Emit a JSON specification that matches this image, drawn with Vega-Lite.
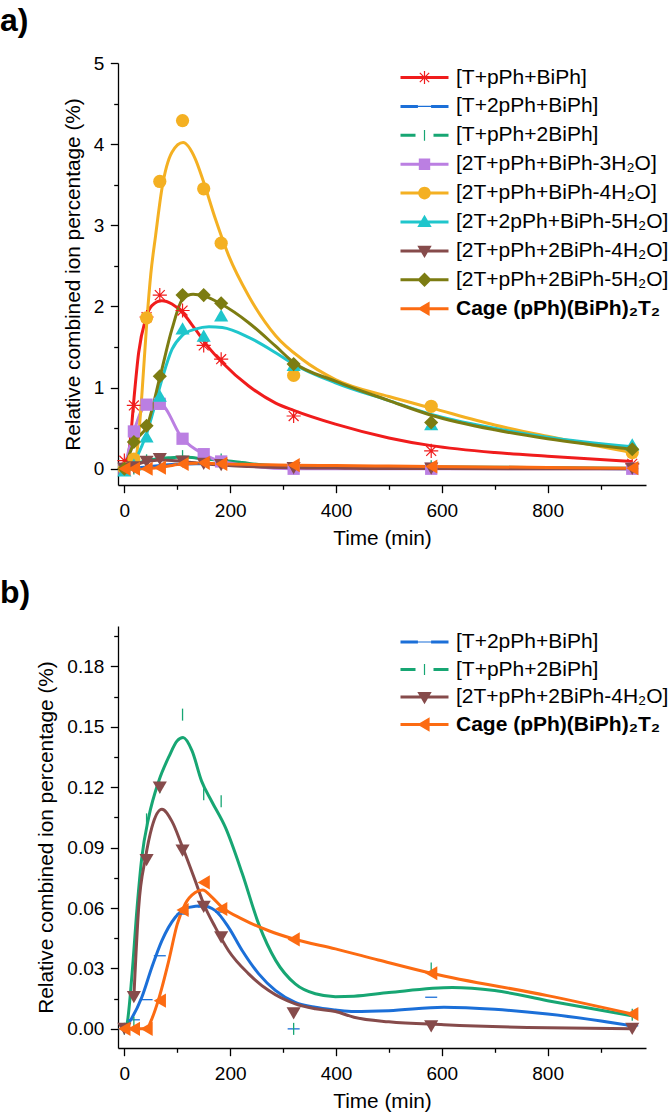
{
"$schema": "https://vega.github.io/schema/vega-lite/v6.json",
"padding": {"left": 0, "top": 5, "right": 0, "bottom": 0},
"config": {
  "font": "Liberation Sans",
  "view": {"stroke": null},
  "axis": {"grid": false, "domainColor": "#000", "domainWidth": 1.3, "tickColor": "#000", "tickWidth": 1.3, "tickSize": 7.7, "labelColor": "#000", "labelFontSize": 19, "titleColor": "#000", "titleFontSize": 20.8, "titleFontWeight": "normal", "labelFlush": false},
  "axisX": {"labelPadding": 9, "titlePadding": 8},
  "axisY": {"labelPadding": 6.5, "titlePadding": 10},
  "title": {"fontSize": 32, "fontWeight": "bold", "anchor": "start", "frame": "group", "dx": -118, "offset": 16, "color": "#000"}
},
"resolve": {"scale": {"color": "independent", "shape": "independent", "stroke": "independent"}, "legend": {"color": "independent", "shape": "independent", "stroke": "independent"}},
"datasets": {
"pts": [
{"s":"[T+pPh+BiPh]","t":0,"v":0.1},{"s":"[T+pPh+BiPh]","t":18,"v":0.78},{"s":"[T+pPh+BiPh]","t":42,"v":1.87},{"s":"[T+pPh+BiPh]","t":67,"v":2.14},{"s":"[T+pPh+BiPh]","t":110,"v":1.95},{"s":"[T+pPh+BiPh]","t":150,"v":1.52},{"s":"[T+pPh+BiPh]","t":183,"v":1.35},{"s":"[T+pPh+BiPh]","t":320,"v":0.65},{"s":"[T+pPh+BiPh]","t":580,"v":0.22},{"s":"[T+pPh+BiPh]","t":960,"v":0.06},
{"s":"[T+2pPh+BiPh]","t":0,"v":0},{"s":"[T+2pPh+BiPh]","t":18,"v":0.0045},{"s":"[T+2pPh+BiPh]","t":42,"v":0.0145},{"s":"[T+2pPh+BiPh]","t":67,"v":0.0363},{"s":"[T+2pPh+BiPh]","t":110,"v":0.057},{"s":"[T+2pPh+BiPh]","t":150,"v":0.0605},{"s":"[T+2pPh+BiPh]","t":183,"v":0.058},{"s":"[T+2pPh+BiPh]","t":320,"v":0},{"s":"[T+2pPh+BiPh]","t":580,"v":0.0157},{"s":"[T+2pPh+BiPh]","t":960,"v":0.0015},
{"s":"[T+pPh+2BiPh]","t":0,"v":0},{"s":"[T+pPh+2BiPh]","t":18,"v":0.003},{"s":"[T+pPh+2BiPh]","t":42,"v":0.104},{"s":"[T+pPh+2BiPh]","t":67,"v":0.12},{"s":"[T+pPh+2BiPh]","t":110,"v":0.156},{"s":"[T+pPh+2BiPh]","t":150,"v":0.1165},{"s":"[T+pPh+2BiPh]","t":183,"v":0.113},{"s":"[T+pPh+2BiPh]","t":320,"v":0},{"s":"[T+pPh+2BiPh]","t":580,"v":0.03},{"s":"[T+pPh+2BiPh]","t":960,"v":0.007},
{"s":"[2T+pPh+BiPh-3H₂O]","t":0,"v":0},{"s":"[2T+pPh+BiPh-3H₂O]","t":18,"v":0.46},{"s":"[2T+pPh+BiPh-3H₂O]","t":42,"v":0.79},{"s":"[2T+pPh+BiPh-3H₂O]","t":67,"v":0.8},{"s":"[2T+pPh+BiPh-3H₂O]","t":110,"v":0.37},{"s":"[2T+pPh+BiPh-3H₂O]","t":150,"v":0.18},{"s":"[2T+pPh+BiPh-3H₂O]","t":183,"v":0.09},{"s":"[2T+pPh+BiPh-3H₂O]","t":320,"v":0},{"s":"[2T+pPh+BiPh-3H₂O]","t":580,"v":0},{"s":"[2T+pPh+BiPh-3H₂O]","t":960,"v":0},
{"s":"[2T+pPh+BiPh-4H₂O]","t":0,"v":0},{"s":"[2T+pPh+BiPh-4H₂O]","t":18,"v":0.12},{"s":"[2T+pPh+BiPh-4H₂O]","t":42,"v":1.86},{"s":"[2T+pPh+BiPh-4H₂O]","t":67,"v":3.54},{"s":"[2T+pPh+BiPh-4H₂O]","t":110,"v":4.29},{"s":"[2T+pPh+BiPh-4H₂O]","t":150,"v":3.45},{"s":"[2T+pPh+BiPh-4H₂O]","t":183,"v":2.78},{"s":"[2T+pPh+BiPh-4H₂O]","t":320,"v":1.15},{"s":"[2T+pPh+BiPh-4H₂O]","t":580,"v":0.77},{"s":"[2T+pPh+BiPh-4H₂O]","t":960,"v":0.2},
{"s":"[2T+2pPh+BiPh-5H₂O]","t":0,"v":-0.02},{"s":"[2T+2pPh+BiPh-5H₂O]","t":18,"v":0.05},{"s":"[2T+2pPh+BiPh-5H₂O]","t":42,"v":0.4},{"s":"[2T+2pPh+BiPh-5H₂O]","t":67,"v":0.9},{"s":"[2T+2pPh+BiPh-5H₂O]","t":110,"v":1.73},{"s":"[2T+2pPh+BiPh-5H₂O]","t":150,"v":1.64},{"s":"[2T+2pPh+BiPh-5H₂O]","t":183,"v":1.89},{"s":"[2T+2pPh+BiPh-5H₂O]","t":320,"v":1.28},{"s":"[2T+2pPh+BiPh-5H₂O]","t":580,"v":0.55},{"s":"[2T+2pPh+BiPh-5H₂O]","t":960,"v":0.3},
{"s":"[2T+pPh+2BiPh-4H₂O]","t":0,"v":0},{"s":"[2T+pPh+2BiPh-4H₂O]","t":18,"v":0.0157},{"s":"[2T+pPh+2BiPh-4H₂O]","t":42,"v":0.0838},{"s":"[2T+pPh+2BiPh-4H₂O]","t":67,"v":0.1198},{"s":"[2T+pPh+2BiPh-4H₂O]","t":110,"v":0.0885},{"s":"[2T+pPh+2BiPh-4H₂O]","t":150,"v":0.0606},{"s":"[2T+pPh+2BiPh-4H₂O]","t":183,"v":0.0454},{"s":"[2T+pPh+2BiPh-4H₂O]","t":320,"v":0.0077},{"s":"[2T+pPh+2BiPh-4H₂O]","t":580,"v":0.0012},{"s":"[2T+pPh+2BiPh-4H₂O]","t":960,"v":0},
{"s":"[2T+pPh+2BiPh-5H₂O]","t":0,"v":0},{"s":"[2T+pPh+2BiPh-5H₂O]","t":18,"v":0.33},{"s":"[2T+pPh+2BiPh-5H₂O]","t":42,"v":0.53},{"s":"[2T+pPh+2BiPh-5H₂O]","t":67,"v":1.14},{"s":"[2T+pPh+2BiPh-5H₂O]","t":110,"v":2.14},{"s":"[2T+pPh+2BiPh-5H₂O]","t":150,"v":2.14},{"s":"[2T+pPh+2BiPh-5H₂O]","t":183,"v":2.04},{"s":"[2T+pPh+2BiPh-5H₂O]","t":320,"v":1.29},{"s":"[2T+pPh+2BiPh-5H₂O]","t":580,"v":0.57},{"s":"[2T+pPh+2BiPh-5H₂O]","t":960,"v":0.24},
{"s":"Cage (pPh)(BiPh)₂T₂","t":0,"v":0},{"s":"Cage (pPh)(BiPh)₂T₂","t":18,"v":0},{"s":"Cage (pPh)(BiPh)₂T₂","t":42,"v":0},{"s":"Cage (pPh)(BiPh)₂T₂","t":67,"v":0.014},{"s":"Cage (pPh)(BiPh)₂T₂","t":110,"v":0.059},{"s":"Cage (pPh)(BiPh)₂T₂","t":150,"v":0.0727},{"s":"Cage (pPh)(BiPh)₂T₂","t":183,"v":0.0595},{"s":"Cage (pPh)(BiPh)₂T₂","t":320,"v":0.0444},{"s":"Cage (pPh)(BiPh)₂T₂","t":580,"v":0.0276},{"s":"Cage (pPh)(BiPh)₂T₂","t":960,"v":0.0074}
],
"crv": [
{"s":"[T+pPh+BiPh]","t":0,"v":0},{"s":"[T+pPh+BiPh]","t":6,"v":0.1},{"s":"[T+pPh+BiPh]","t":12,"v":0.4},{"s":"[T+pPh+BiPh]","t":18,"v":0.85},{"s":"[T+pPh+BiPh]","t":27,"v":1.43},{"s":"[T+pPh+BiPh]","t":40,"v":1.84},{"s":"[T+pPh+BiPh]","t":52,"v":2.01},{"s":"[T+pPh+BiPh]","t":71,"v":2.07},{"s":"[T+pPh+BiPh]","t":90,"v":2.03},{"s":"[T+pPh+BiPh]","t":109,"v":1.93},{"s":"[T+pPh+BiPh]","t":134,"v":1.72},{"s":"[T+pPh+BiPh]","t":160,"v":1.49},{"s":"[T+pPh+BiPh]","t":185,"v":1.31},{"s":"[T+pPh+BiPh]","t":235,"v":1.02},{"s":"[T+pPh+BiPh]","t":286,"v":0.81},{"s":"[T+pPh+BiPh]","t":320,"v":0.72},{"s":"[T+pPh+BiPh]","t":399,"v":0.55},{"s":"[T+pPh+BiPh]","t":500,"v":0.38},{"s":"[T+pPh+BiPh]","t":580,"v":0.285},{"s":"[T+pPh+BiPh]","t":700,"v":0.2},{"s":"[T+pPh+BiPh]","t":800,"v":0.155},{"s":"[T+pPh+BiPh]","t":960,"v":0.09},
{"s":"[T+2pPh+BiPh]","t":0,"v":0},{"s":"[T+2pPh+BiPh]","t":11,"v":0.004},{"s":"[T+2pPh+BiPh]","t":33,"v":0.0157},{"s":"[T+2pPh+BiPh]","t":52,"v":0.0306},{"s":"[T+2pPh+BiPh]","t":71,"v":0.0438},{"s":"[T+2pPh+BiPh]","t":96,"v":0.0553},{"s":"[T+2pPh+BiPh]","t":122,"v":0.0603},{"s":"[T+2pPh+BiPh]","t":147,"v":0.0611},{"s":"[T+2pPh+BiPh]","t":172,"v":0.0587},{"s":"[T+2pPh+BiPh]","t":197,"v":0.0504},{"s":"[T+2pPh+BiPh]","t":223,"v":0.0388},{"s":"[T+2pPh+BiPh]","t":254,"v":0.0273},{"s":"[T+2pPh+BiPh]","t":286,"v":0.019},{"s":"[T+2pPh+BiPh]","t":323,"v":0.0132},{"s":"[T+2pPh+BiPh]","t":361,"v":0.0107},{"s":"[T+2pPh+BiPh]","t":399,"v":0.0094},{"s":"[T+2pPh+BiPh]","t":434,"v":0.0086},{"s":"[T+2pPh+BiPh]","t":500,"v":0.009},{"s":"[T+2pPh+BiPh]","t":604,"v":0.0107},{"s":"[T+2pPh+BiPh]","t":700,"v":0.0097},{"s":"[T+2pPh+BiPh]","t":800,"v":0.0074},{"s":"[T+2pPh+BiPh]","t":958,"v":0.0016},
{"s":"[T+pPh+2BiPh]","t":0,"v":0},{"s":"[T+pPh+2BiPh]","t":5,"v":0.0025},{"s":"[T+pPh+2BiPh]","t":14.5,"v":0.027},{"s":"[T+pPh+2BiPh]","t":24,"v":0.06},{"s":"[T+pPh+2BiPh]","t":33,"v":0.085},{"s":"[T+pPh+2BiPh]","t":46,"v":0.105},{"s":"[T+pPh+2BiPh]","t":65,"v":0.123},{"s":"[T+pPh+2BiPh]","t":84,"v":0.135},{"s":"[T+pPh+2BiPh]","t":100,"v":0.143},{"s":"[T+pPh+2BiPh]","t":111,"v":0.1446},{"s":"[T+pPh+2BiPh]","t":128,"v":0.138},{"s":"[T+pPh+2BiPh]","t":146,"v":0.123},{"s":"[T+pPh+2BiPh]","t":165,"v":0.113},{"s":"[T+pPh+2BiPh]","t":191,"v":0.1},{"s":"[T+pPh+2BiPh]","t":223,"v":0.077},{"s":"[T+pPh+2BiPh]","t":254,"v":0.052},{"s":"[T+pPh+2BiPh]","t":286,"v":0.034},{"s":"[T+pPh+2BiPh]","t":323,"v":0.0223},{"s":"[T+pPh+2BiPh]","t":361,"v":0.0174},{"s":"[T+pPh+2BiPh]","t":399,"v":0.016},{"s":"[T+pPh+2BiPh]","t":434,"v":0.0162},{"s":"[T+pPh+2BiPh]","t":500,"v":0.018},{"s":"[T+pPh+2BiPh]","t":620,"v":0.0205},{"s":"[T+pPh+2BiPh]","t":700,"v":0.019},{"s":"[T+pPh+2BiPh]","t":800,"v":0.014},{"s":"[T+pPh+2BiPh]","t":960,"v":0.0065},
{"s":"[2T+pPh+BiPh-3H₂O]","t":0,"v":0},{"s":"[2T+pPh+BiPh-3H₂O]","t":18,"v":0.46},{"s":"[2T+pPh+BiPh-3H₂O]","t":42,"v":0.79},{"s":"[2T+pPh+BiPh-3H₂O]","t":67,"v":0.8},{"s":"[2T+pPh+BiPh-3H₂O]","t":110,"v":0.37},{"s":"[2T+pPh+BiPh-3H₂O]","t":150,"v":0.18},{"s":"[2T+pPh+BiPh-3H₂O]","t":183,"v":0.09},{"s":"[2T+pPh+BiPh-3H₂O]","t":320,"v":0},{"s":"[2T+pPh+BiPh-3H₂O]","t":580,"v":0},{"s":"[2T+pPh+BiPh-3H₂O]","t":960,"v":0},
{"s":"[2T+pPh+BiPh-4H₂O]","t":0,"v":0},{"s":"[2T+pPh+BiPh-4H₂O]","t":12,"v":0},{"s":"[2T+pPh+BiPh-4H₂O]","t":18,"v":0.02},{"s":"[2T+pPh+BiPh-4H₂O]","t":21,"v":0.07},{"s":"[2T+pPh+BiPh-4H₂O]","t":27,"v":0.4},{"s":"[2T+pPh+BiPh-4H₂O]","t":33,"v":0.9},{"s":"[2T+pPh+BiPh-4H₂O]","t":43,"v":1.86},{"s":"[2T+pPh+BiPh-4H₂O]","t":50,"v":2.4},{"s":"[2T+pPh+BiPh-4H₂O]","t":59,"v":2.87},{"s":"[2T+pPh+BiPh-4H₂O]","t":71,"v":3.45},{"s":"[2T+pPh+BiPh-4H₂O]","t":90,"v":3.9},{"s":"[2T+pPh+BiPh-4H₂O]","t":111,"v":4.02},{"s":"[2T+pPh+BiPh-4H₂O]","t":134,"v":3.82},{"s":"[2T+pPh+BiPh-4H₂O]","t":150,"v":3.53},{"s":"[2T+pPh+BiPh-4H₂O]","t":172,"v":3.08},{"s":"[2T+pPh+BiPh-4H₂O]","t":197,"v":2.63},{"s":"[2T+pPh+BiPh-4H₂O]","t":235,"v":2.13},{"s":"[2T+pPh+BiPh-4H₂O]","t":286,"v":1.64},{"s":"[2T+pPh+BiPh-4H₂O]","t":336,"v":1.35},{"s":"[2T+pPh+BiPh-4H₂O]","t":399,"v":1.1},{"s":"[2T+pPh+BiPh-4H₂O]","t":500,"v":0.89},{"s":"[2T+pPh+BiPh-4H₂O]","t":580,"v":0.75},{"s":"[2T+pPh+BiPh-4H₂O]","t":700,"v":0.54},{"s":"[2T+pPh+BiPh-4H₂O]","t":800,"v":0.4},{"s":"[2T+pPh+BiPh-4H₂O]","t":960,"v":0.2},
{"s":"[2T+2pPh+BiPh-5H₂O]","t":0,"v":-0.02},{"s":"[2T+2pPh+BiPh-5H₂O]","t":7,"v":0},{"s":"[2T+2pPh+BiPh-5H₂O]","t":14.5,"v":0.07},{"s":"[2T+2pPh+BiPh-5H₂O]","t":24,"v":0.15},{"s":"[2T+2pPh+BiPh-5H₂O]","t":33,"v":0.28},{"s":"[2T+2pPh+BiPh-5H₂O]","t":42,"v":0.43},{"s":"[2T+2pPh+BiPh-5H₂O]","t":52,"v":0.65},{"s":"[2T+2pPh+BiPh-5H₂O]","t":71,"v":1.1},{"s":"[2T+2pPh+BiPh-5H₂O]","t":90,"v":1.47},{"s":"[2T+2pPh+BiPh-5H₂O]","t":109,"v":1.64},{"s":"[2T+2pPh+BiPh-5H₂O]","t":134,"v":1.72},{"s":"[2T+2pPh+BiPh-5H₂O]","t":160,"v":1.75},{"s":"[2T+2pPh+BiPh-5H₂O]","t":185,"v":1.74},{"s":"[2T+2pPh+BiPh-5H₂O]","t":235,"v":1.62},{"s":"[2T+2pPh+BiPh-5H₂O]","t":286,"v":1.43},{"s":"[2T+2pPh+BiPh-5H₂O]","t":320,"v":1.29},{"s":"[2T+2pPh+BiPh-5H₂O]","t":399,"v":1.06},{"s":"[2T+2pPh+BiPh-5H₂O]","t":500,"v":0.84},{"s":"[2T+2pPh+BiPh-5H₂O]","t":580,"v":0.67},{"s":"[2T+2pPh+BiPh-5H₂O]","t":700,"v":0.5},{"s":"[2T+2pPh+BiPh-5H₂O]","t":800,"v":0.39},{"s":"[2T+2pPh+BiPh-5H₂O]","t":960,"v":0.27},
{"s":"[2T+pPh+2BiPh-4H₂O]","t":18,"v":0.0157},{"s":"[2T+pPh+2BiPh-4H₂O]","t":27,"v":0.06},{"s":"[2T+pPh+2BiPh-4H₂O]","t":40,"v":0.085},{"s":"[2T+pPh+2BiPh-4H₂O]","t":52,"v":0.1},{"s":"[2T+pPh+2BiPh-4H₂O]","t":71,"v":0.109},{"s":"[2T+pPh+2BiPh-4H₂O]","t":90,"v":0.103},{"s":"[2T+pPh+2BiPh-4H₂O]","t":109,"v":0.0909},{"s":"[2T+pPh+2BiPh-4H₂O]","t":134,"v":0.0735},{"s":"[2T+pPh+2BiPh-4H₂O]","t":150,"v":0.062},{"s":"[2T+pPh+2BiPh-4H₂O]","t":172,"v":0.0504},{"s":"[2T+pPh+2BiPh-4H₂O]","t":197,"v":0.0388},{"s":"[2T+pPh+2BiPh-4H₂O]","t":235,"v":0.0273},{"s":"[2T+pPh+2BiPh-4H₂O]","t":273,"v":0.019},{"s":"[2T+pPh+2BiPh-4H₂O]","t":323,"v":0.0124},{"s":"[2T+pPh+2BiPh-4H₂O]","t":361,"v":0.01},{"s":"[2T+pPh+2BiPh-4H₂O]","t":399,"v":0.0086},{"s":"[2T+pPh+2BiPh-4H₂O]","t":434,"v":0.0058},{"s":"[2T+pPh+2BiPh-4H₂O]","t":500,"v":0.0035},{"s":"[2T+pPh+2BiPh-4H₂O]","t":604,"v":0.0021},{"s":"[2T+pPh+2BiPh-4H₂O]","t":800,"v":0.0005},{"s":"[2T+pPh+2BiPh-4H₂O]","t":960,"v":0},
{"s":"[2T+pPh+2BiPh-5H₂O]","t":0,"v":0},{"s":"[2T+pPh+2BiPh-5H₂O]","t":19,"v":0.33},{"s":"[2T+pPh+2BiPh-5H₂O]","t":43,"v":0.53},{"s":"[2T+pPh+2BiPh-5H₂O]","t":68,"v":1.15},{"s":"[2T+pPh+2BiPh-5H₂O]","t":90,"v":1.72},{"s":"[2T+pPh+2BiPh-5H₂O]","t":111,"v":2.1},{"s":"[2T+pPh+2BiPh-5H₂O]","t":130,"v":2.15},{"s":"[2T+pPh+2BiPh-5H₂O]","t":150,"v":2.13},{"s":"[2T+pPh+2BiPh-5H₂O]","t":183,"v":2.03},{"s":"[2T+pPh+2BiPh-5H₂O]","t":235,"v":1.8},{"s":"[2T+pPh+2BiPh-5H₂O]","t":286,"v":1.51},{"s":"[2T+pPh+2BiPh-5H₂O]","t":320,"v":1.31},{"s":"[2T+pPh+2BiPh-5H₂O]","t":399,"v":1.08},{"s":"[2T+pPh+2BiPh-5H₂O]","t":500,"v":0.84},{"s":"[2T+pPh+2BiPh-5H₂O]","t":580,"v":0.66},{"s":"[2T+pPh+2BiPh-5H₂O]","t":700,"v":0.48},{"s":"[2T+pPh+2BiPh-5H₂O]","t":800,"v":0.37},{"s":"[2T+pPh+2BiPh-5H₂O]","t":960,"v":0.24},
{"s":"Cage (pPh)(BiPh)₂T₂","t":0,"v":0},{"s":"Cage (pPh)(BiPh)₂T₂","t":18,"v":0},{"s":"Cage (pPh)(BiPh)₂T₂","t":42,"v":0},{"s":"Cage (pPh)(BiPh)₂T₂","t":52,"v":0.005},{"s":"Cage (pPh)(BiPh)₂T₂","t":65,"v":0.0149},{"s":"Cage (pPh)(BiPh)₂T₂","t":84,"v":0.0339},{"s":"Cage (pPh)(BiPh)₂T₂","t":100,"v":0.052},{"s":"Cage (pPh)(BiPh)₂T₂","t":115,"v":0.062},{"s":"Cage (pPh)(BiPh)₂T₂","t":134,"v":0.0677},{"s":"Cage (pPh)(BiPh)₂T₂","t":148,"v":0.069},{"s":"Cage (pPh)(BiPh)₂T₂","t":166,"v":0.0653},{"s":"Cage (pPh)(BiPh)₂T₂","t":185,"v":0.0603},{"s":"Cage (pPh)(BiPh)₂T₂","t":223,"v":0.0545},{"s":"Cage (pPh)(BiPh)₂T₂","t":273,"v":0.0487},{"s":"Cage (pPh)(BiPh)₂T₂","t":320,"v":0.0446},{"s":"Cage (pPh)(BiPh)₂T₂","t":399,"v":0.0397},{"s":"Cage (pPh)(BiPh)₂T₂","t":480,"v":0.0342},{"s":"Cage (pPh)(BiPh)₂T₂","t":580,"v":0.0276},{"s":"Cage (pPh)(BiPh)₂T₂","t":800,"v":0.0165},{"s":"Cage (pPh)(BiPh)₂T₂","t":960,"v":0.0074}
]
},
"spacing": 28,
"vconcat": [
{
  "width": 528, "height": 422,
  "title": {"text": "a)"},
  "encoding": {
    "x": {"field": "t", "type": "quantitative", "scale": {"domain": [-12, 986], "nice": false, "zero": false}, "axis": null},
    "y": {"field": "v", "type": "quantitative", "scale": {"domain": [-0.2, 5], "nice": false, "zero": false}, "axis": null}
  },
  "layer": [
    {"data": {"name": "crv"}, "mark": {"type": "line", "interpolate": "monotone", "strokeWidth": 3},
     "encoding": {
       "x": {"field": "t", "type": "quantitative", "scale": {"domain": [-12, 986], "nice": false, "zero": false}, "axis": {"values": [0,200,400,600,800], "title": "Time (min)", "orient": "bottom"}},
       "y": {"field": "v", "type": "quantitative", "scale": {"domain": [-0.2, 5], "nice": false, "zero": false}, "axis": {"values": [0,1,2,3,4,5], "format": "d", "title": "Relative combined ion percentage (%)", "orient": "left"}},
       "stroke": {"field": "s", "type": "nominal", "legend": null,
         "scale": {"domain": ["Cage (pPh)(BiPh)₂T₂","[2T+pPh+2BiPh-5H₂O]","[2T+pPh+2BiPh-4H₂O]","[2T+2pPh+BiPh-5H₂O]","[2T+pPh+BiPh-4H₂O]","[2T+pPh+BiPh-3H₂O]","[T+pPh+2BiPh]","[T+2pPh+BiPh]","[T+pPh+BiPh]"],
                   "range": ["#fc6b12","#7c7c12","#864b4b","#1fc6cc","#f4b022","#bb7fe2","#17a673","#1b6fd8","#f01c1c"]}}
     }},
    {"data": {"name": "pts"}, "transform": [{"filter": {"field": "s", "equal": "[T+pPh+BiPh]"}}],
     "mark": {"type": "point", "shape": "M-1,0H1M0,-1V1M-0.7,-0.7L0.7,0.7M-0.7,0.7L0.7,-0.7", "filled": false, "color": "#f01c1c", "strokeWidth": 1.2, "size": 200, "opacity": 1}},
    {"data": {"name": "pts"}, "transform": [{"filter": {"field": "s", "equal": "[T+2pPh+BiPh]"}}],
     "mark": {"type": "point", "shape": "M-1,0H1", "filled": false, "color": "#1b6fd8", "strokeWidth": 1.3, "size": 144, "opacity": 1}},
    {"data": {"name": "pts"}, "transform": [{"filter": {"field": "s", "equal": "[T+pPh+2BiPh]"}}],
     "mark": {"type": "point", "shape": "M0,-1V1", "filled": false, "color": "#17a673", "strokeWidth": 1.3, "size": 144, "opacity": 1}},
    {"data": {"name": "pts"}, "transform": [{"filter": {"field": "s", "equal": "[2T+pPh+BiPh-3H₂O]"}}],
     "mark": {"type": "point", "shape": "square", "filled": true, "color": "#bb7fe2", "size": 150, "opacity": 1}},
    {"data": {"name": "pts"}, "transform": [{"filter": {"field": "s", "equal": "[2T+pPh+BiPh-4H₂O]"}}],
     "mark": {"type": "point", "shape": "circle", "filled": true, "color": "#f4b022", "size": 175, "opacity": 1}},
    {"data": {"name": "pts"}, "transform": [{"filter": {"field": "s", "equal": "[2T+2pPh+BiPh-5H₂O]"}}],
     "mark": {"type": "point", "shape": "triangle-up", "filled": true, "color": "#1fc6cc", "size": 200, "opacity": 1}},
    {"data": {"name": "pts"}, "transform": [{"filter": {"field": "s", "equal": "[2T+pPh+2BiPh-4H₂O]"}}],
     "mark": {"type": "point", "shape": "triangle-down", "filled": true, "color": "#864b4b", "size": 200, "opacity": 1}},
    {"data": {"name": "pts"}, "transform": [{"filter": {"field": "s", "equal": "[2T+pPh+2BiPh-5H₂O]"}}],
     "mark": {"type": "point", "shape": "diamond", "filled": true, "color": "#7c7c12", "size": 200, "opacity": 1}},
    {"data": {"name": "pts"}, "transform": [{"filter": {"field": "s", "equal": "Cage (pPh)(BiPh)₂T₂"}}],
     "mark": {"type": "point", "shape": "triangle-left", "filled": true, "color": "#fc6b12", "size": 200, "opacity": 1}},
    {"data": {"name": "pts"}, "mark": {"type": "point", "filled": true, "opacity": 0},
     "encoding": {
       "x": {"field": "t", "type": "quantitative", "scale": {"domain": [-12, 986], "nice": false, "zero": false}, "axis": {"values": [100,300,500,700,900], "labels": false, "domain": false, "tickSize": 4.3, "title": null, "orient": "bottom"}},
       "y": {"field": "v", "type": "quantitative", "scale": {"domain": [-0.2, 5], "nice": false, "zero": false}, "axis": {"values": [0.5,1.5,2.5,3.5,4.5], "labels": false, "domain": false, "tickSize": 4.3, "title": null, "orient": "left"}},
       "color": {"field": "s", "type": "nominal",
         "scale": {"domain": ["[T+pPh+BiPh]","[T+2pPh+BiPh]","[T+pPh+2BiPh]","[2T+pPh+BiPh-3H₂O]","[2T+pPh+BiPh-4H₂O]","[2T+2pPh+BiPh-5H₂O]","[2T+pPh+2BiPh-4H₂O]","[2T+pPh+2BiPh-5H₂O]","Cage (pPh)(BiPh)₂T₂"],
                   "range": ["#f01c1c","#1b6fd8","#17a673","#bb7fe2","#f4b022","#1fc6cc","#864b4b","#7c7c12","#fc6b12"]},
         "legend": {"title": null, "orient": "none", "legendX": 296, "legendY": 4, "symbolSize": 144, "symbolStrokeWidth": 0, "labelFontSize": 21, "labelOffset": 21, "rowPadding": 6.9, "padding": 0, "labelLimit": 400, "labelColor": "#000", "symbolOpacity": 1, "labelFontWeight": {"expr": "datum.label == 'Cage (pPh)(BiPh)₂T₂' ? 'bold' : 'normal'"}}},
       "shape": {"field": "s", "type": "nominal",
         "scale": {"domain": ["[T+pPh+BiPh]","[T+2pPh+BiPh]","[T+pPh+2BiPh]","[2T+pPh+BiPh-3H₂O]","[2T+pPh+BiPh-4H₂O]","[2T+2pPh+BiPh-5H₂O]","[2T+pPh+2BiPh-4H₂O]","[2T+pPh+2BiPh-5H₂O]","Cage (pPh)(BiPh)₂T₂"],
                   "range": [
                     "M-4,-0.25H4V0.25H-4ZM-0.1,-1.1H0.1V1.1H-0.1ZM-0.85,-0.71L-0.71,-0.85L0.85,0.71L0.71,0.85ZM-0.71,0.85L-0.85,0.71L0.71,-0.85L0.85,-0.71Z",
                     "M-4,-0.25H-1.1V0.25H-4ZM1.1,-0.25H4V0.25H1.1ZM-1.1,-0.1H1.1V0.1H-1.1Z",
                     "M-4,-0.25H-1.5V0.25H-4ZM1.5,-0.25H4V0.25H1.5ZM-0.1,-0.9H0.1V0.9H-0.1Z",
                     "M-4,-0.25H4V0.25H-4ZM-0.95,-0.95H0.95V0.95H-0.95Z",
                     "M-4,-0.25H4V0.25H-4ZM1.05,0A1.05,1.05 0 1,1 -1.05,0A1.05,1.05 0 1,1 1.05,0Z",
                     "M-4,-0.25H4V0.25H-4ZM0,-1.2L1.2,0.85H-1.2Z",
                     "M-4,-0.25H4V0.25H-4ZM0,1.2L-1.2,-0.85H1.2Z",
                     "M-4,-0.25H4V0.25H-4ZM0,-1.2L1.2,0L0,1.2L-1.2,0Z",
                     "M-4,-0.25H4V0.25H-4ZM-1.2,0L0.85,-1.2V1.2Z"]},
         "legend": {"title": null, "orient": "none", "legendX": 296, "legendY": 4, "symbolSize": 144, "symbolStrokeWidth": 0, "labelFontSize": 21, "labelOffset": 21, "rowPadding": 6.9, "padding": 0, "labelLimit": 400, "labelColor": "#000", "symbolOpacity": 1, "labelFontWeight": {"expr": "datum.label == 'Cage (pPh)(BiPh)₂T₂' ? 'bold' : 'normal'"}}}
     }}
  ],
  "resolve": {"axis": {"x": "independent", "y": "independent"}}
},
{
  "width": 528, "height": 422,
  "title": {"text": "b)"},
  "encoding": {
    "x": {"field": "t", "type": "quantitative", "scale": {"domain": [-12, 986], "nice": false, "zero": false}, "axis": null},
    "y": {"field": "v", "type": "quantitative", "scale": {"domain": [-0.0095, 0.2], "nice": false, "zero": false}, "axis": null}
  },
  "layer": [
    {"data": {"name": "crv"}, "transform": [{"filter": {"field": "s", "oneOf": ["[T+2pPh+BiPh]","[T+pPh+2BiPh]","[2T+pPh+2BiPh-4H₂O]","Cage (pPh)(BiPh)₂T₂"]}}],
     "mark": {"type": "line", "interpolate": "monotone", "strokeWidth": 3},
     "encoding": {
       "x": {"field": "t", "type": "quantitative", "scale": {"domain": [-12, 986], "nice": false, "zero": false}, "axis": {"values": [0,200,400,600,800], "title": "Time (min)", "orient": "bottom"}},
       "y": {"field": "v", "type": "quantitative", "scale": {"domain": [-0.0095, 0.2], "nice": false, "zero": false}, "axis": {"values": [0,0.03,0.06,0.09,0.12,0.15,0.18], "format": ".2f", "title": "Relative combined ion percentage (%)", "orient": "left"}},
       "stroke": {"field": "s", "type": "nominal", "legend": null,
         "scale": {"domain": ["Cage (pPh)(BiPh)₂T₂","[2T+pPh+2BiPh-4H₂O]","[T+pPh+2BiPh]","[T+2pPh+BiPh]"],
                   "range": ["#fc6b12","#864b4b","#17a673","#1b6fd8"]}}
     }},
    {"data": {"name": "pts"}, "transform": [{"filter": {"field": "s", "equal": "[T+2pPh+BiPh]"}}],
     "mark": {"type": "point", "shape": "M-1,0H1", "filled": false, "color": "#1b6fd8", "strokeWidth": 1.3, "size": 144, "opacity": 1}},
    {"data": {"name": "pts"}, "transform": [{"filter": {"field": "s", "equal": "[T+pPh+2BiPh]"}}],
     "mark": {"type": "point", "shape": "M0,-1V1", "filled": false, "color": "#17a673", "strokeWidth": 1.3, "size": 144, "opacity": 1}},
    {"data": {"name": "pts"}, "transform": [{"filter": {"field": "s", "equal": "[2T+pPh+2BiPh-4H₂O]"}}],
     "mark": {"type": "point", "shape": "triangle-down", "filled": true, "color": "#864b4b", "size": 200, "opacity": 1}},
    {"data": {"name": "pts"}, "transform": [{"filter": {"field": "s", "equal": "Cage (pPh)(BiPh)₂T₂"}}],
     "mark": {"type": "point", "shape": "triangle-left", "filled": true, "color": "#fc6b12", "size": 200, "opacity": 1}},
    {"data": {"name": "pts"}, "transform": [{"filter": {"field": "s", "oneOf": ["[T+2pPh+BiPh]","[T+pPh+2BiPh]","[2T+pPh+2BiPh-4H₂O]","Cage (pPh)(BiPh)₂T₂"]}}],
     "mark": {"type": "point", "filled": true, "opacity": 0},
     "encoding": {
       "x": {"field": "t", "type": "quantitative", "scale": {"domain": [-12, 986], "nice": false, "zero": false}, "axis": {"values": [100,300,500,700,900], "labels": false, "domain": false, "tickSize": 4.3, "title": null, "orient": "bottom"}},
       "y": {"field": "v", "type": "quantitative", "scale": {"domain": [-0.0095, 0.2], "nice": false, "zero": false}, "axis": {"values": [0.015,0.045,0.075,0.105,0.135,0.165,0.195], "labels": false, "domain": false, "tickSize": 4.3, "title": null, "orient": "left"}},
       "color": {"field": "s", "type": "nominal",
         "scale": {"domain": ["[T+2pPh+BiPh]","[T+pPh+2BiPh]","[2T+pPh+2BiPh-4H₂O]","Cage (pPh)(BiPh)₂T₂"],
                   "range": ["#1b6fd8","#17a673","#864b4b","#fc6b12"]},
         "legend": {"title": null, "orient": "none", "legendX": 296, "legendY": 5.5, "symbolSize": 144, "symbolStrokeWidth": 0, "labelFontSize": 21, "labelOffset": 21, "rowPadding": 5.5, "padding": 0, "labelLimit": 400, "labelColor": "#000", "symbolOpacity": 1, "labelFontWeight": {"expr": "datum.label == 'Cage (pPh)(BiPh)₂T₂' ? 'bold' : 'normal'"}}},
       "shape": {"field": "s", "type": "nominal",
         "scale": {"domain": ["[T+2pPh+BiPh]","[T+pPh+2BiPh]","[2T+pPh+2BiPh-4H₂O]","Cage (pPh)(BiPh)₂T₂"],
                   "range": [
                     "M-4,-0.25H-1.1V0.25H-4ZM1.1,-0.25H4V0.25H1.1ZM-1.1,-0.1H1.1V0.1H-1.1Z",
                     "M-4,-0.25H-1.5V0.25H-4ZM1.5,-0.25H4V0.25H1.5ZM-0.1,-0.9H0.1V0.9H-0.1Z",
                     "M-4,-0.25H4V0.25H-4ZM0,1.2L-1.2,-0.85H1.2Z",
                     "M-4,-0.25H4V0.25H-4ZM-1.2,0L0.85,-1.2V1.2Z"]},
         "legend": {"title": null, "orient": "none", "legendX": 296, "legendY": 5.5, "symbolSize": 144, "symbolStrokeWidth": 0, "labelFontSize": 21, "labelOffset": 21, "rowPadding": 5.5, "padding": 0, "labelLimit": 400, "labelColor": "#000", "symbolOpacity": 1, "labelFontWeight": {"expr": "datum.label == 'Cage (pPh)(BiPh)₂T₂' ? 'bold' : 'normal'"}}}
     }}
  ],
  "resolve": {"axis": {"x": "independent", "y": "independent"}}
}
]
}
